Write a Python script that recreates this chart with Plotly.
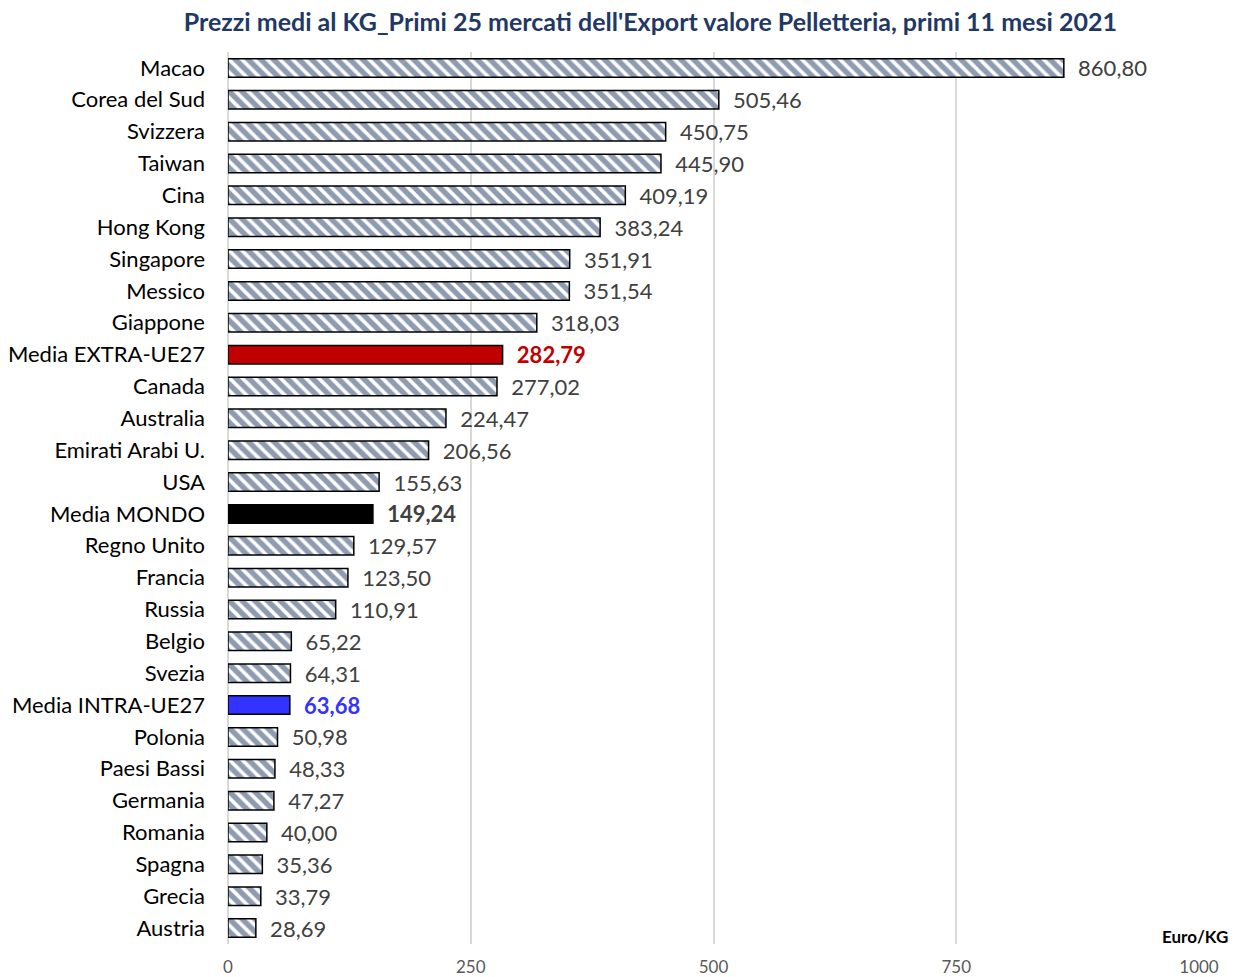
import plotly.graph_objects as go

# Average export prices per kg (Euro/KG), top 25 markets plus reference averages
paesi = [
    "Macao", "Corea del Sud", "Svizzera", "Taiwan", "Cina", "Hong Kong",
    "Singapore", "Messico", "Giappone", "Media EXTRA-UE27", "Canada",
    "Australia", "Emirati Arabi U.", "USA", "Media MONDO", "Regno Unito",
    "Francia", "Russia", "Belgio", "Svezia", "Media INTRA-UE27", "Polonia",
    "Paesi Bassi", "Germania", "Romania", "Spagna", "Grecia", "Austria",
]
prezzi = [
    860.80, 505.46, 450.75, 445.90, 409.19, 383.24, 351.91, 351.54, 318.03,
    282.79, 277.02, 224.47, 206.56, 155.63, 149.24, 129.57, 123.50, 110.91,
    65.22, 64.31, 63.68, 50.98, 48.33, 47.27, 40.00, 35.36, 33.79, 28.69,
]
tick_valori = [0, 250, 500, 750, 1000]

FONT = "Lato, Open Sans, sans-serif"
NAVY = "#1F3864"
medie = {
    "Media EXTRA-UE27": ("#C00000", "#C00000"),
    "Media MONDO": ("#000000", "#404040"),
    "Media INTRA-UE27": ("#3333FF", "#3333FF"),
}
PAD = "\u00a0\u00a0"


def fmt(v):
    return f"{v:.2f}".replace(".", ",")


# split the rows: striped country bars and solid average bars
paesi_str, prezzi_str = [], []
paesi_med, prezzi_med, col_med, txt_med = [], [], [], []
for p, v in zip(paesi, prezzi):
    if p in medie:
        paesi_med.append(p)
        prezzi_med.append(v)
        col_med.append(medie[p][0])
        txt_med.append(medie[p][1])
    else:
        paesi_str.append(p)
        prezzi_str.append(v)

fig = go.Figure()

fig.add_trace(
    go.Bar(
        x=prezzi_str,
        y=paesi_str,
        orientation="h",
        width=0.58,
        marker=dict(
            color="white",
            line=dict(color="black", width=1.5),
            pattern=dict(shape="\\", fgcolor=NAVY, bgcolor="white",
                         size=9, solidity=0.6),
        ),
        text=[PAD + fmt(v) for v in prezzi_str],
        textposition="outside",
        constraintext="none",
        textfont=dict(family=FONT, size=22, color="#404040"),
        cliponaxis=False,
        hoverinfo="skip",
    )
)

fig.add_trace(
    go.Bar(
        x=prezzi_med,
        y=paesi_med,
        orientation="h",
        width=0.58,
        marker=dict(color=col_med, line=dict(color="black", width=1.5)),
        text=[PAD + "<b>" + fmt(v) + "</b>" for v in prezzi_med],
        textposition="outside",
        constraintext="none",
        textfont=dict(family=FONT, size=22, color=txt_med),
        cliponaxis=False,
        hoverinfo="skip",
    )
)

fig.update_layout(
    width=1234,
    height=977,
    paper_bgcolor="white",
    plot_bgcolor="white",
    showlegend=False,
    barmode="overlay",
    margin=dict(l=228, r=35, t=52, b=33, autoexpand=False),
    title=dict(
        text="<b>Prezzi medi al KG_Primi 25 mercati dell'Export valore Pelletteria, primi 11 mesi 2021</b>",
        font=dict(family=FONT, size=25, color="#1F3864"),
        x=0.527, xanchor="center", y=0.977, yanchor="middle",
    ),
    xaxis=dict(
        range=[0, 1000],
        tickvals=tick_valori,
        ticktext=[str(t) for t in tick_valori],
        showgrid=True,
        gridcolor="#D9D9D9",
        gridwidth=1.5,
        zeroline=True,
        zerolinecolor="#D9D9D9",
        zerolinewidth=2,
        showline=False,
        ticks="",
        automargin=False,
        ticklabelstandoff=11,
        tickfont=dict(family=FONT, size=17, color="#595959"),
    ),
    yaxis=dict(
        categoryorder="array",
        categoryarray=paesi,
        autorange="reversed",
        showgrid=False,
        ticks="",
        showline=False,
        automargin=False,
        ticklabelstandoff=22,
        tickfont=dict(family=FONT, size=22, color="black"),
    ),
    annotations=[
        dict(
            text="<b>Euro/KG</b>",
            x=0.996, xref="paper", xanchor="center",
            y=0.008, yref="paper", yanchor="middle",
            showarrow=False,
            font=dict(family=FONT, size=17, color="black"),
        )
    ],
)

fig.write_html("out.html")
